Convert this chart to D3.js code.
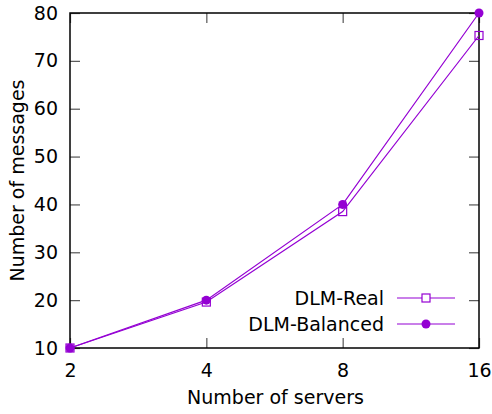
<!DOCTYPE html>
<html>
<head>
<meta charset="utf-8">
<script src="https://cdn.jsdelivr.net/npm/d3@7"></script>
<style>
  html, body { margin: 0; padding: 0; background: #fff; }
  svg text { font-family: "DejaVu Sans", Verdana, sans-serif; fill: #000; }
</style>
</head>
<body>
<svg id="chart" width="492" height="414"></svg>
<script>
// Message counts against cluster size
const servers = [2, 4, 8, 16];
const realMessages = [10, 19.6, 38.5, 75.3];
const balancedMessages = [10, 20, 40, 80];
const yTicks = [10, 20, 30, 40, 50, 60, 70, 80];
const seriesNames = ["DLM-Real", "DLM-Balanced"];
const purple = "#9400d3";

(function draw() {
  const svg = d3.select("#chart");
  const margin = { left: 70, right: 13, top: 13, bottom: 66 };
  const W = 492, H = 414;

  const x = d3.scaleLog().base(2).domain([2, 16]).range([margin.left, W - margin.right]);
  const y = d3.scaleLinear().domain([10, 80]).range([H - margin.bottom, margin.top]);

  const fontSize = 19;

  // Axes: inward ticks, mirrored on top and right
  const axBottom = svg.append("g").attr("transform", `translate(0,${y(10)})`)
    .call(d3.axisBottom(x).tickValues(servers).tickFormat(d3.format("d")).tickSize(-10).tickPadding(16));
  const axTop = svg.append("g").attr("transform", `translate(0,${y(80)})`)
    .call(d3.axisTop(x).tickValues(servers).tickFormat("").tickSize(-10));
  const axLeft = svg.append("g").attr("transform", `translate(${x(2)},0)`)
    .call(d3.axisLeft(y).tickValues(yTicks).tickSize(-10).tickPadding(12));
  const axRight = svg.append("g").attr("transform", `translate(${x(16)},0)`)
    .call(d3.axisRight(y).tickValues(yTicks).tickFormat("").tickSize(-10));

  [axBottom, axTop, axLeft, axRight].forEach(g => {
    g.select(".domain").remove();
    g.selectAll(".tick line").attr("stroke", "#555").attr("stroke-width", 1.2);
    g.selectAll(".tick text").attr("font-size", fontSize).attr("font-family", "DejaVu Sans");
  });

  // Border box
  svg.append("rect")
    .attr("x", x(2)).attr("y", y(80))
    .attr("width", x(16) - x(2)).attr("height", y(10) - y(80))
    .attr("fill", "none").attr("stroke", "#000").attr("stroke-width", 1.5);

  // Axis titles
  svg.append("text")
    .attr("x", (x(2) + x(16)) / 2 + 1).attr("y", 404)
    .attr("text-anchor", "middle").attr("font-size", fontSize)
    .text("Number of servers");
  svg.append("text")
    .attr("transform", `translate(24,${(y(10) + y(80)) / 2}) rotate(-90)`)
    .attr("text-anchor", "middle").attr("font-size", fontSize)
    .text("Number of messages");

  const line = d3.line().x(d => x(d[0])).y(d => y(d[1]));
  const realPts = servers.map((s, i) => [s, realMessages[i]]);
  const balPts = servers.map((s, i) => [s, balancedMessages[i]]);

  const plot = svg.append("g");
  plot.append("path").datum(realPts).attr("d", line)
    .attr("fill", "none").attr("stroke", purple).attr("stroke-width", 1.2);
  plot.append("path").datum(balPts).attr("d", line)
    .attr("fill", "none").attr("stroke", purple).attr("stroke-width", 1.2);

  plot.selectAll(".sq").data(realPts).enter().append("rect")
    .attr("x", d => x(d[0]) - 4).attr("y", d => y(d[1]) - 4)
    .attr("width", 8).attr("height", 8)
    .attr("fill", "none").attr("stroke", purple).attr("stroke-width", 1.2);
  plot.selectAll(".dot").data(balPts).enter().append("circle")
    .attr("cx", d => x(d[0])).attr("cy", d => y(d[1])).attr("r", 4.5)
    .attr("fill", purple);

  // Legend
  const legend = svg.append("g");
  const rows = [298, 324];
  seriesNames.forEach((name, i) => {
    const ly = rows[i];
    legend.append("text").attr("x", 384).attr("y", ly).attr("dy", "0.35em")
      .attr("text-anchor", "end").attr("font-size", fontSize).text(name);
    legend.append("line").attr("x1", 397).attr("x2", 455).attr("y1", ly).attr("y2", ly)
      .attr("stroke", purple).attr("stroke-width", 1.2);
    if (i === 0) {
      legend.append("rect").attr("x", 422).attr("y", ly - 4).attr("width", 8).attr("height", 8)
        .attr("fill", "#fff").attr("stroke", purple).attr("stroke-width", 1.2);
    } else {
      legend.append("circle").attr("cx", 426).attr("cy", ly).attr("r", 4.5).attr("fill", purple);
    }
  });
})();
</script>
</body>
</html>
